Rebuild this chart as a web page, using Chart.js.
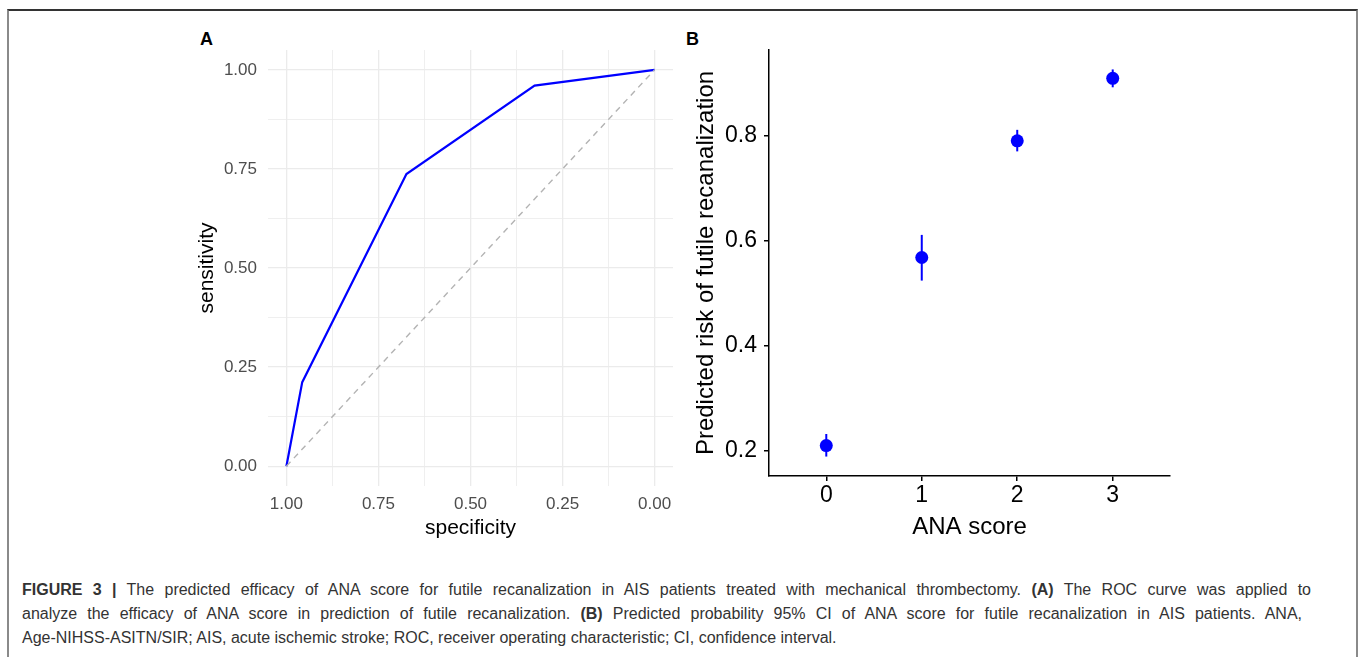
<!DOCTYPE html>
<html>
<head>
<meta charset="utf-8">
<title>Figure 3</title>
<script src="https://cdn.jsdelivr.net/npm/chart.js@4.4.1/dist/chart.umd.min.js"></script>
<style>
  html, body { margin: 0; padding: 0; background: #fff; }
  body { width: 1363px; height: 657px; position: relative; overflow: hidden; font-family: "Liberation Sans", Arial, sans-serif; }
  .frame { position: absolute; left: 7px; top: 9px; width: 1347px; height: 700px;
           border-top: 2px solid #333; border-left: 2px solid #8a8a8a; border-right: 2px solid #8a8a8a; }
  .box { position: absolute; }
  .tag { position: absolute; font-weight: bold; font-size: 18px; color: #000; }
  .caption { position: absolute; left: 22px; top: 578px; font-size: 16px; line-height: 24px; color: #333; white-space: nowrap; }
  .caption div { white-space: nowrap; }
  .caption .just { text-align: justify; text-align-last: justify; white-space: normal; }
</style>
</head>
<body>
<div class="frame"></div>
<div class="tag" style="left:200px; top:29px;">A</div>
<div class="tag" style="left:686px; top:29px;">B</div>
<div class="box" style="left:180px; top:20px; width:500px; height:540px;"><canvas id="roc"></canvas></div>
<div class="box" style="left:680px; top:20px; width:500px; height:540px;"><canvas id="risk"></canvas></div>
<div class="caption">
  <div class="just" style="width:1289px;"><b>FIGURE 3 |</b> The predicted efficacy of ANA score for futile recanalization in AIS patients treated with mechanical thrombectomy. <b>(A)</b> The ROC curve was applied to</div>
  <div class="just" style="width:1280px;">analyze the efficacy of ANA score in prediction of futile recanalization. <b>(B)</b> Predicted probability 95% CI of ANA score for futile recanalization in AIS patients. ANA,</div>
  <div>Age-NIHSS-ASITN/SIR; AIS, acute ischemic stroke; ROC, receiver operating characteristic; CI, confidence interval.</div>
</div>
<script>
// panel A: ROC curve
var rocSpecificity = [1.00, 0.957, 0.674, 0.326, 0.00];
var rocSensitivity = [0.00, 0.212, 0.737, 0.960, 1.00];
var diagSpecificity = [1, 0];
var diagSensitivity = [0, 1];
var rocTicks = [0, 0.125, 0.25, 0.375, 0.5, 0.625, 0.75, 0.875, 1];

// panel B: predicted risk with 95% CI
var anaScore = [0, 1, 2, 3];
var riskMean = [0.210, 0.568, 0.790, 0.909];
var riskLow = [0.189, 0.524, 0.770, 0.892];
var riskHigh = [0.232, 0.611, 0.811, 0.926];
var riskTicks = [0.2, 0.4, 0.6, 0.8];

Chart.defaults.font.family = '"Liberation Sans", Arial, sans-serif';
Chart.defaults.animation = false;

function pairs(xs, ys) {
    return xs.map(function (x, i) { return { x: x, y: ys[i] }; });
}
function setTicks(list) {
    return function (scale) {
        scale.ticks = list.map(function (v) { return { value: v }; });
    };
}
function isMajor(v) {
    return Math.abs(v * 4 - Math.round(v * 4)) < 1e-6;
}

var gridA = {
    color: '#ebebeb',
    drawTicks: false,
    lineWidth: function (ctx) { return isMajor(ctx.tick.value) ? 1.3 : 0.8; }
};

new Chart(document.getElementById('roc'), {
    type: 'line',
    data: {
        datasets: [{
            data: pairs(diagSpecificity, diagSensitivity),
            borderColor: '#b3b3b3',
            borderWidth: 1.4,
            borderDash: [6, 5],
            pointRadius: 0
        }, {
            data: pairs(rocSpecificity, rocSensitivity),
            borderColor: '#0000ff',
            borderWidth: 2.2,
            pointRadius: 0,
            tension: 0
        }]
    },
    options: {
        responsive: true,
        maintainAspectRatio: false,
        layout: { padding: { left: 0, top: 30, right: 7, bottom: 0 } },
        plugins: { legend: { display: false }, tooltip: { enabled: false } },
        scales: {
            x: {
                type: 'linear', reverse: true, min: -0.05, max: 1.05,
                afterBuildTicks: setTicks(rocTicks),
                afterFit: function (s) { s.height = 74; },
                grid: gridA,
                border: { display: false },
                ticks: {
                    autoSkip: false, maxRotation: 0, padding: 8, color: '#4d4d4d', font: { size: 17 },
                    callback: function (v) { return isMajor(v) ? v.toFixed(2) : ''; }
                },
                title: { display: true, text: 'specificity', color: '#000', font: { size: 21 }, padding: { top: 0, bottom: 19 } }
            },
            y: {
                type: 'linear', min: -0.05, max: 1.05,
                afterBuildTicks: setTicks(rocTicks),
                afterFit: function (s) { s.width = 88; },
                grid: gridA,
                border: { display: false },
                ticks: {
                    autoSkip: false, padding: 11, color: '#4d4d4d', font: { size: 17 },
                    callback: function (v) { return isMajor(v) ? v.toFixed(2) : ''; }
                },
                title: { display: true, text: 'sensitivity', color: '#000', font: { size: 21 }, padding: { top: 15, bottom: 0 } }
            }
        }
    }
});

var riskSets = anaScore.map(function (s, i) {
    return {
        type: 'line',
        data: [{ x: s, y: riskLow[i] }, { x: s, y: riskHigh[i] }],
        borderColor: '#0000ff',
        borderWidth: 2,
        pointRadius: 0,
        order: 2
    };
});
riskSets.push({
    type: 'scatter',
    data: pairs(anaScore, riskMean),
    backgroundColor: '#0000ff',
    borderWidth: 0,
    pointRadius: 6.5,
    order: 1
});

var axisB = { drawOnChartArea: false, drawTicks: true, tickLength: 5, color: '#000', lineWidth: 1.5 };

new Chart(document.getElementById('risk'), {
    type: 'scatter',
    data: { datasets: riskSets },
    options: {
        responsive: true,
        maintainAspectRatio: false,
        layout: { padding: { left: 0, top: 30, right: 10, bottom: 0 } },
        plugins: { legend: { display: false }, tooltip: { enabled: false } },
        scales: {
            x: {
                type: 'linear', min: -0.6, max: 3.6,
                afterBuildTicks: setTicks(anaScore),
                afterFit: function (s) { s.height = 84; },
                grid: axisB,
                border: { display: true, color: '#000', width: 1.5 },
                ticks: { autoSkip: false, maxRotation: 0, padding: 1, color: '#000', font: { size: 23 } },
                title: { display: true, text: 'ANA score', color: '#000', font: { size: 24 }, padding: { top: 0, bottom: 18 } }
            },
            y: {
                type: 'linear', min: 0.152, max: 0.963,
                afterBuildTicks: setTicks(riskTicks),
                afterFit: function (s) { s.width = 89; },
                grid: axisB,
                border: { display: true, color: '#000', width: 1.5 },
                ticks: {
                    autoSkip: false, padding: 7, color: '#000', font: { size: 23 },
                    callback: function (v) { return v.toFixed(1); }
                },
                title: { display: true, text: 'Predicted risk of futile recanalization', color: '#000', font: { size: 24 }, padding: { top: 12, bottom: 0 } }
            }
        }
    }
});
</script>
</body>
</html>
